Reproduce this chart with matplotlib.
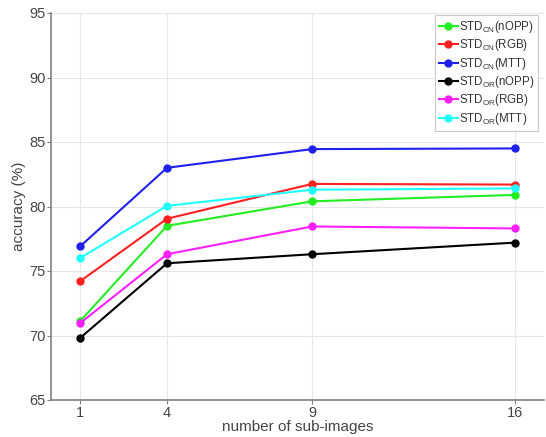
import numpy as np
import matplotlib
matplotlib.use('agg')
import matplotlib.pyplot as plt

plt.rcParams['font.family'] = ['Liberation Sans', 'DejaVu Sans']
plt.rcParams['mathtext.fontset'] = 'custom'
plt.rcParams['mathtext.rm'] = 'Liberation Sans'

sub_images = [1, 4, 9, 16]
cn_nopp = [71.1, 78.5, 80.4, 80.9]
cn_rgb = [74.2, 79.05, 81.75, 81.7]
cn_mtt = [76.9, 83.0, 84.45, 84.5]
or_nopp = [69.8, 75.6, 76.3, 77.2]
or_rgb = [70.95, 76.3, 78.45, 78.3]
or_mtt = [76.0, 80.05, 81.3, 81.4]

series = [
    (cn_nopp, '#22ee22', r'STD$_\mathrm{CN}$(nOPP)'),
    (cn_rgb, '#ff2020', r'STD$_\mathrm{CN}$(RGB)'),
    (cn_mtt, '#2020ee', r'STD$_\mathrm{CN}$(MTT)'),
    (or_nopp, '#000000', r'STD$_\mathrm{OR}$(nOPP)'),
    (or_rgb, '#ff20ff', r'STD$_\mathrm{OR}$(RGB)'),
    (or_mtt, '#20ffff', r'STD$_\mathrm{OR}$(MTT)'),
]

fig = plt.figure(figsize=(5.46, 4.37), dpi=100)
ax = fig.add_axes([51 / 546, 37 / 437, 493 / 546, 387 / 437])

for vals, col, lab in series:
    ax.plot(sub_images, vals, color=col, lw=1.5, marker='o', ms=5, label=lab)

ax.set_xlim(0, 17)
ax.set_ylim(65, 95)
ax.set_xticks(sub_images)
ax.set_yticks(np.arange(65, 96, 5))
ax.grid(True, color='#e6e6e6', lw=0.8)
ax.set_axisbelow(True)
for s in ['top', 'right']:
    ax.spines[s].set_visible(False)
for s in ['left', 'bottom']:
    ax.spines[s].set_color('#808080')
    ax.spines[s].set_linewidth(1.2)
ax.tick_params(colors='#808080', labelcolor='#444444', labelsize=10.5, length=3)
ax.tick_params(axis='x', pad=1.5)
ax.tick_params(axis='y', pad=1)

ax.set_xlabel('number of sub-images', fontsize=11, color='#444444', labelpad=0)
ax.set_ylabel('accuracy (%)', fontsize=11, color='#444444', labelpad=2)

leg = ax.legend(loc='upper right', bbox_to_anchor=(538 / 546, 422 / 437),
                bbox_transform=fig.transFigure, fontsize=8.3,
                handlelength=1.6, handletextpad=0.1, labelspacing=0.2,
                borderpad=0.35, borderaxespad=0, fancybox=False,
                edgecolor='#c8c8c8', framealpha=1)
leg.get_frame().set_linewidth(0.8)
for t in leg.get_texts():
    t.set_color('#333333')

fig.savefig('out.png', dpi=100)
